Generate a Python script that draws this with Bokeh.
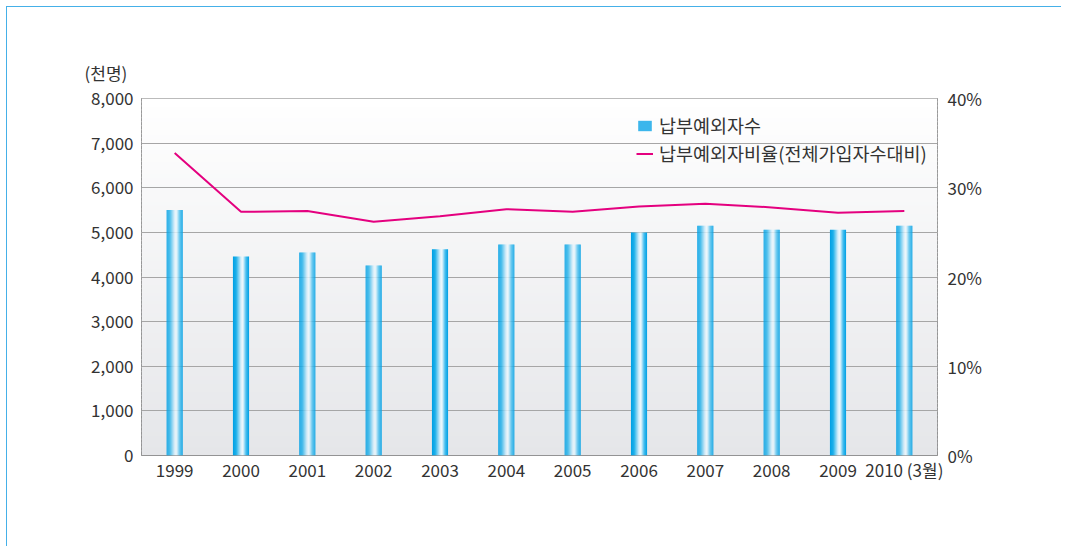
import numpy as np
from bokeh.plotting import figure
from bokeh.models import (ColumnDataSource, Range1d, LinearAxis, FixedTicker,
                          NumeralTickFormatter, PrintfTickFormatter, Legend, LegendItem, Title)
from bokeh.transform import dodge
from bokeh.embed import file_html
from bokeh.resources import INLINE

# ---- data ----
years = ["1999", "2000", "2001", "2002", "2003", "2004", "2005", "2006",
         "2007", "2008", "2009", "2010 (3월)"]
exempt_counts = [5500, 4460, 4550, 4260, 4620, 4730, 4730, 5000, 5150, 5060, 5060, 5150]  # 천명
exempt_ratio = [33.9, 27.3, 27.4, 26.2, 26.8, 27.6, 27.3, 27.9, 28.2, 27.8, 27.2, 27.4]  # %
left_ticks = [0, 1000, 2000, 3000, 4000, 5000, 6000, 7000, 8000]
right_ticks = [0, 10, 20, 30, 40]

bar_label = "납부예외자수"
line_label = "납부예외자비율(전체가입자수대비)"
unit_label = "(천명)"

FONT = "Noto Sans CJK KR"
TXT = "#333333"

idx = list(range(len(years)))
src = ColumnDataSource(dict(x=idx, count=exempt_counts, ratio=exempt_ratio))

p = figure(width=1055, height=540, output_backend="svg", toolbar_location=None,
           x_range=Range1d(-0.5, len(years) - 0.5), y_range=Range1d(0, 8000),
           min_border_left=134, min_border_right=125, min_border_top=91, min_border_bottom=92,
           background_fill_color="#ffffff", border_fill_color="#ffffff")
p.styles = {"border-top": "1px solid #45b0e8", "border-left": "1px solid #45b0e8",
            "margin-left": "6px", "margin-top": "6px"}
p.extra_y_ranges = {"pct": Range1d(0, 40)}

p.outline_line_color = "#777777"
p.outline_line_width = 1

# background vertical gradient (white top -> light gray bottom)
nstrip = 90
edges = np.linspace(0, 8000, nstrip + 1)
top_c = np.array([255, 255, 255])
bot_c = np.array([229, 230, 233])
cols = []
for i in range(nstrip):
    t = (i + 0.5) / nstrip  # 0 bottom -> 1 top
    c = bot_c + (top_c - bot_c) * t
    cols.append("#%02x%02x%02x" % tuple(int(round(v)) for v in c))
bg = p.quad(left=[-0.5] * nstrip, right=[len(years) - 0.5] * nstrip,
            bottom=list(edges[:-1]), top=list(edges[1:] + 8000 / nstrip * 0.3),
            fill_color=cols, line_color=None)
bg.level = "image"

# bars with cylinder gradient
bar_w = 0.242
n = 16
stops = [0.0, 0.2, 0.5, 0.62, 0.82, 1.0]
stop_cols = np.array([[0, 160, 228], [30, 176, 234], [215, 238, 250], [240, 249, 253],
                      [70, 190, 238], [0, 160, 228]], dtype=float)
sw = bar_w / n
for k in range(n):
    t = (k + 0.5) / n
    c = [np.interp(t, stops, stop_cols[:, j]) for j in range(3)]
    col = "#%02x%02x%02x" % tuple(int(round(v)) for v in c)
    off = -bar_w / 2 + sw * (k + 0.5)
    p.vbar(x=dodge("x", off), top="count", width=sw * 1.08, source=src,
           fill_color=col, line_color=None)

legend_bar = p.vbar(x=dodge("x", 0), top="count", width=0.0001, source=src,
                    fill_color="#3cb6ec", line_color=None, visible=False)

ln = p.line(x="x", y="ratio", source=src, y_range_name="pct",
            line_color="#e4007f", line_width=2)

# grid
p.xgrid.visible = False
p.ygrid.ticker = FixedTicker(ticks=left_ticks)
p.ygrid.grid_line_color = "#a6a6a6"
p.ygrid.grid_line_width = 1

# axes
def style_axis(ax):
    ax.axis_line_color = None
    ax.major_tick_line_color = None
    ax.minor_tick_line_color = None
    ax.major_tick_out = 0
    ax.major_tick_in = 0
    ax.minor_tick_out = 0
    ax.major_label_text_font = FONT
    ax.major_label_text_font_size = "17px"
    ax.major_label_text_color = TXT

p.xaxis.ticker = FixedTicker(ticks=idx)
p.xaxis.major_label_overrides = {i: y for i, y in enumerate(years)}
style_axis(p.xaxis[0])
p.xaxis.major_label_standoff = 1

p.yaxis.ticker = FixedTicker(ticks=left_ticks)
p.yaxis.formatter = NumeralTickFormatter(format="0,0")
style_axis(p.yaxis[0])
p.yaxis.major_label_standoff = 8

rax = LinearAxis(y_range_name="pct", ticker=FixedTicker(ticks=right_ticks),
                 formatter=PrintfTickFormatter(format="%d%%"))
style_axis(rax)
rax.major_label_standoff = 10
p.add_layout(rax, "right")

# unit title
t = Title(text=unit_label, align="left", offset=-57, text_font=FONT,
          text_font_size="17px", text_color=TXT, text_font_style="normal", standoff=27)
p.add_layout(t, "above")

# legend
legend = Legend(items=[LegendItem(label=bar_label, renderers=[legend_bar]),
                       LegendItem(label=line_label, renderers=[ln])],
                location=(495, 289), orientation="vertical",
                background_fill_alpha=0, border_line_color=None,
                label_text_font=FONT, label_text_font_size="18.5px", label_text_color=TXT,
                glyph_width=17, glyph_height=13, label_height=20, spacing=2,
                padding=0, margin=0, label_standoff=6)
p.add_layout(legend, "center")

open("out.html", "w").write(file_html(p, INLINE))
